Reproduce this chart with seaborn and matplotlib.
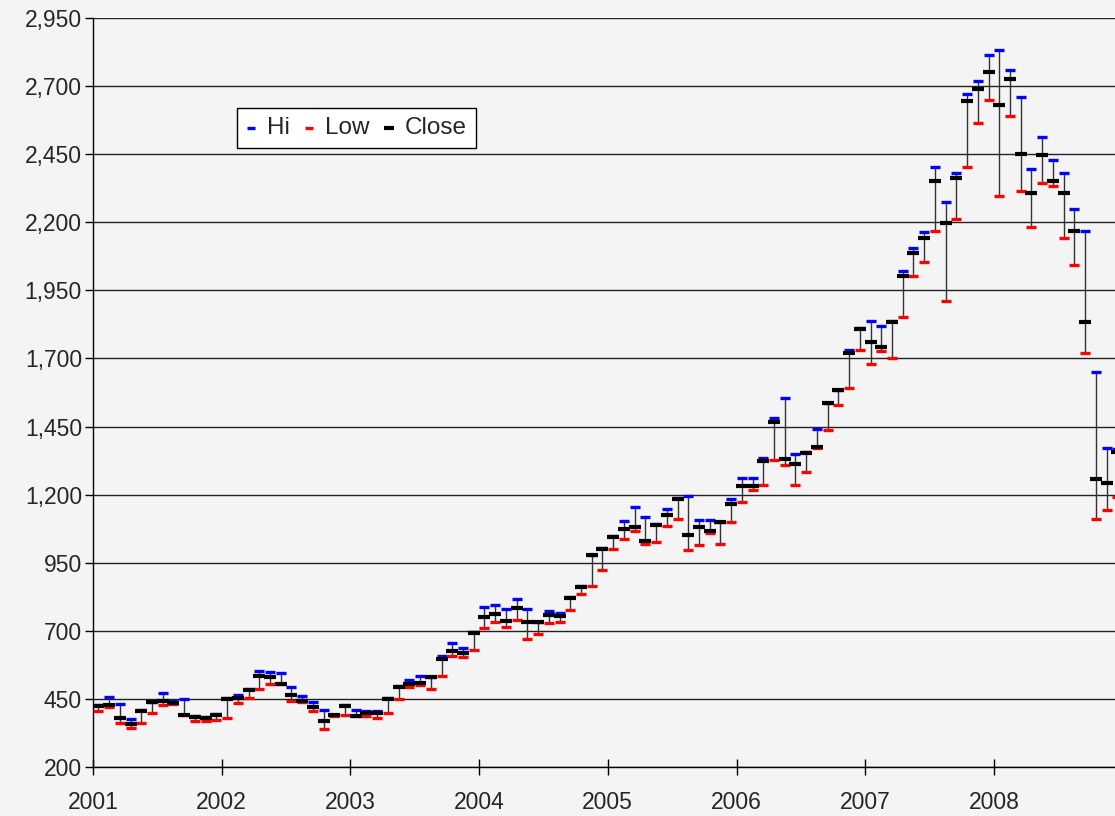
import pandas as pd
import seaborn as sns
import matplotlib.pyplot as plt
import numpy as np
from matplotlib.ticker import StrMethodFormatter

# Monthly values, Jan 2001 - Dec 2008
hi = [428, 458, 432, 375, 408, 440, 471, 443, 449, 387, 384, 393,
      453, 463, 487, 553, 548, 545, 493, 461, 440, 409, 392, 426,
      408, 404, 404, 452, 496, 519, 534, 531, 606, 654, 636, 694,
      788, 795, 780, 818, 780, 734, 772, 764, 824, 863, 980, 1005,
      1049, 1104, 1154, 1118, 1091, 1149, 1187, 1194, 1107, 1107, 1101, 1183,
      1262, 1260, 1336, 1483, 1555, 1350, 1355, 1440, 1538, 1585, 1731, 1810,
      1839, 1818, 1836, 2021, 2107, 2163, 2403, 2274, 2381, 2671, 2718, 2814,
      2833, 2759, 2659, 2396, 2513, 2430, 2381, 2250, 2167, 1650, 1370, 1367]
low = [406, 421, 360, 342, 362, 397, 429, 430, 390, 369, 369, 371,
       381, 434, 452, 486, 504, 503, 442, 440, 407, 338, 388, 390,
       386, 388, 380, 397, 449, 495, 501, 488, 534, 606, 603, 631,
       709, 731, 714, 739, 669, 690, 730, 731, 775, 835, 863, 922,
       1001, 1037, 1067, 1020, 1027, 1084, 1110, 996, 1014, 1058, 1019, 1099,
       1173, 1217, 1236, 1327, 1310, 1236, 1282, 1372, 1436, 1529, 1591, 1732,
       1680, 1729, 1702, 1851, 2003, 2055, 2169, 1911, 2212, 2402, 2566, 2649,
       2297, 2592, 2314, 2182, 2345, 2335, 2143, 2044, 1720, 1112, 1143, 1191]
close = [425, 428, 381, 359, 406, 437, 443, 435, 392, 384, 379, 391,
         451, 454, 482, 534, 530, 505, 463, 442, 419, 369, 390, 424,
         388, 398, 398, 450, 494, 506, 508, 529, 598, 626, 619, 692,
         752, 761, 736, 784, 732, 732, 757, 754, 822, 861, 978, 1001,
         1046, 1075, 1081, 1031, 1089, 1124, 1183, 1051, 1080, 1068, 1099, 1165,
         1233, 1232, 1325, 1467, 1332, 1311, 1353, 1374, 1536, 1583, 1720, 1807,
         1760, 1743, 1833, 2002, 2086, 2141, 2352, 2196, 2362, 2647, 2691, 2750,
         2630, 2725, 2450, 2307, 2446, 2352, 2307, 2168, 1834, 1258, 1243, 1358]
start_year = 2001
year_ticks = list(range(2001, 2009))

df = pd.DataFrame({"hi": hi, "low": low, "close": close})
df["t"] = start_year + (np.arange(len(df)) + 0.5) / 12

sns.set_style("white")
plt.rcParams['font.family'] = ['Liberation Sans', 'DejaVu Sans']

bg = "#f4f4f4"
fig = plt.figure(figsize=(11.15, 8.16), dpi=100, facecolor=bg)
ax = fig.add_axes([93 / 1115, 49 / 816, 1 - 93 / 1115, 749 / 816])
ax.set_facecolor(bg)

# hi-low range
ax.vlines(df.t, df.low, df.hi, color="#333333", lw=1, zorder=2)

sns.scatterplot(data=df, x="t", y="hi", marker="_", s=60, linewidth=2.4,
                color="#0000ff", label="Hi", ax=ax, zorder=3)
sns.scatterplot(data=df, x="t", y="low", marker="_", s=60, linewidth=2.4,
                color="#ff0000", label="Low", ax=ax, zorder=3)
sns.scatterplot(data=df, x="t", y="close", marker="_", s=80, linewidth=3.0,
                color="black", label="Close", ax=ax, zorder=4)

ax.set_xlim(2001, 2001 + 1022 / 128.7)
ax.set_ylim(200, 2950)
ax.set_yticks(range(200, 2951, 250))
ax.yaxis.set_major_formatter(StrMethodFormatter("{x:,.0f}"))
ax.set_xticks(year_ticks)
ax.set_xticklabels([str(y) for y in year_ticks])
ax.set_xlabel("")
ax.set_ylabel("")

ax.grid(axis="y", color="#222222", lw=1)
ax.grid(axis="x", visible=False)
ax.set_axisbelow(True)
for side in ["top", "right"]:
    ax.spines[side].set_visible(False)
for side in ["left", "bottom"]:
    ax.spines[side].set_color("black")
    ax.spines[side].set_linewidth(1)

ax.tick_params(axis="y", direction="out", length=6, width=1, color="black",
               labelsize=16.5, pad=2, left=True)
ax.tick_params(axis="x", direction="inout", length=12, width=1, color="black",
               labelsize=16.5, pad=11, bottom=True)

leg = ax.legend(loc="upper left", bbox_to_anchor=((237 - 93) / 1022, (767 - 108) / 749),
                ncol=3, frameon=True, fancybox=False, fontsize=17.5,
                handlelength=0.4, handletextpad=0.45, columnspacing=0.6,
                borderaxespad=0, borderpad=0.38, markerscale=0.8)
leg.get_frame().set_edgecolor("black")
leg.get_frame().set_facecolor("white")
leg.get_frame().set_linewidth(1)
leg.get_frame().set_alpha(1)

fig.savefig("out.png", dpi=100, facecolor=bg)
